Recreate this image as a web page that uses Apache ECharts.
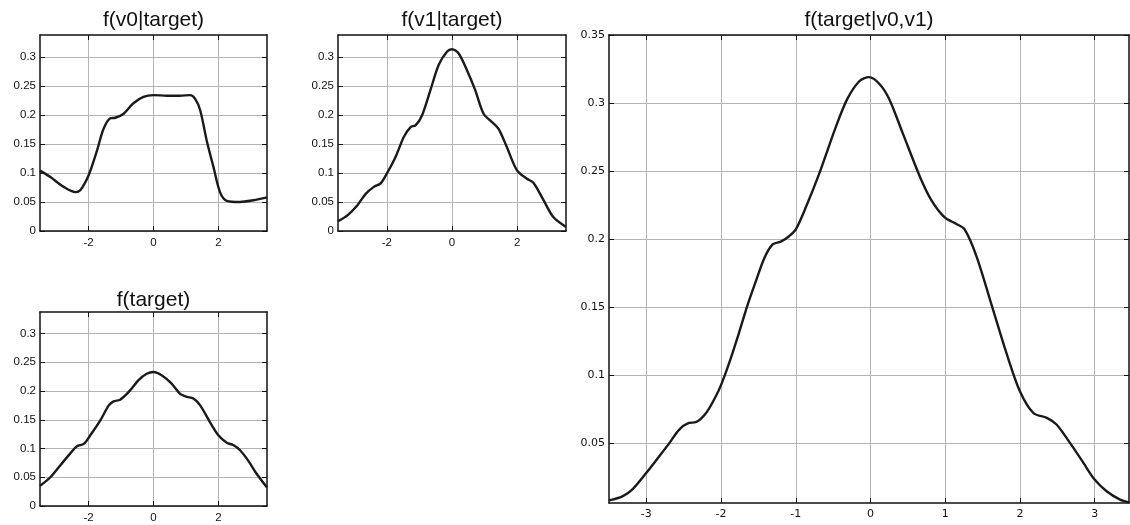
<!DOCTYPE html>
<html>
<head>
<meta charset="utf-8">
<script src="https://cdn.jsdelivr.net/npm/echarts@6/dist/echarts.min.js"></script>
<style>
  html, body { margin: 0; padding: 0; background: #fff; }
  #main { width: 1130px; height: 525px; }
</style>
</head>
<body>
<div id="main"></div>
<script>
// f(v0|target)
const v0X = [-3.5, -3.18, -2.77, -2.41, -2.26, -2.0, -1.74, -1.54, -1.33, -1.18, -0.92, -0.62, -0.31, 0, 0.41, 0.82, 1.13, 1.28, 1.44, 1.64, 1.85, 2.05, 2.26, 2.67, 3.08, 3.5];
const v0Y = [0.104, 0.093, 0.076, 0.067, 0.070, 0.096, 0.139, 0.176, 0.194, 0.195, 0.202, 0.220, 0.231, 0.234, 0.233, 0.233, 0.234, 0.228, 0.208, 0.156, 0.110, 0.067, 0.052, 0.050, 0.053, 0.058];

// f(v1|target)
const v1X = [-3.5, -3.21, -2.91, -2.65, -2.40, -2.19, -2.0, -1.73, -1.48, -1.27, -1.12, -0.92, -0.66, -0.41, -0.15, 0, 0.20, 0.46, 0.71, 0.97, 1.22, 1.43, 1.68, 1.99, 2.30, 2.50, 2.81, 3.11, 3.5];
const v1Y = [0.017, 0.027, 0.044, 0.064, 0.076, 0.082, 0.099, 0.128, 0.162, 0.179, 0.182, 0.199, 0.243, 0.286, 0.309, 0.313, 0.306, 0.277, 0.243, 0.202, 0.188, 0.176, 0.145, 0.105, 0.090, 0.083, 0.053, 0.024, 0.007];

// f(target)
const tgX = [-3.5, -3.18, -2.87, -2.56, -2.36, -2.15, -1.95, -1.64, -1.38, -1.23, -1.03, -0.77, -0.46, -0.21, 0, 0.26, 0.56, 0.82, 1.03, 1.23, 1.44, 1.74, 2.0, 2.26, 2.46, 2.67, 2.92, 3.18, 3.5];
const tgY = [0.035, 0.050, 0.071, 0.092, 0.104, 0.108, 0.123, 0.149, 0.175, 0.182, 0.185, 0.198, 0.219, 0.230, 0.233, 0.227, 0.213, 0.195, 0.190, 0.187, 0.175, 0.146, 0.123, 0.110, 0.106, 0.097, 0.079, 0.056, 0.032];

// f(target|v0,v1)
const postX = [-3.5, -3.32, -3.19, -3.0, -2.83, -2.69, -2.56, -2.43, -2.34, -2.20, -2.07, -1.99, -1.89, -1.76, -1.65, -1.54, -1.42, -1.31, -1.20, -1.09, -1.0, -0.86, -0.68, -0.46, -0.31, -0.15, -0.02, 0.12, 0.25, 0.43, 0.66, 0.81, 0.99, 1.15, 1.26, 1.42, 1.64, 1.82, 2.0, 2.18, 2.36, 2.49, 2.67, 2.85, 3.0, 3.16, 3.34, 3.46];
const postY = [0.0077, 0.0107, 0.0156, 0.028, 0.040, 0.050, 0.0598, 0.0647, 0.0652, 0.072, 0.0843, 0.094, 0.109, 0.131, 0.1506, 0.168, 0.186, 0.196, 0.198, 0.202, 0.207, 0.224, 0.249, 0.283, 0.303, 0.316, 0.319, 0.314, 0.303, 0.278, 0.246, 0.229, 0.216, 0.211, 0.207, 0.187, 0.148, 0.116, 0.088, 0.072, 0.0684, 0.0635, 0.050, 0.0353, 0.023, 0.0144, 0.0083, 0.0063];

const smallXTicks = [-2, 0, 2];
const smallYTicks = [0, 0.05, 0.1, 0.15, 0.2, 0.25, 0.3];
const bigXTicks = [-3, -2, -1, 0, 1, 2, 3];
const bigYTicks = [0.05, 0.1, 0.15, 0.2, 0.25, 0.3, 0.35];
const titles = ["f(v0|target)", "f(v1|target)", "f(target)", "f(target|v0,v1)"];

const smallFont = '"Liberation Sans Narrow", "Arial Narrow", "Liberation Sans", sans-serif';
const bigFont = '"DejaVu Sans", sans-serif';

const panels = [
  { grid: { left: 40, top: 35, width: 227, height: 196 }, x: v0X, y: v0Y,
    xr: [-3.5, 3.5], yr: [0, 0.3375], xt: smallXTicks, yt: smallYTicks, font: smallFont, fs: 11.5, titleTop: 10 },
  { grid: { left: 338, top: 35, width: 228, height: 196 }, x: v1X, y: v1Y,
    xr: [-3.5, 3.5], yr: [0, 0.3375], xt: smallXTicks, yt: smallYTicks, font: smallFont, fs: 11.5, titleTop: 10 },
  { grid: { left: 40, top: 312, width: 227, height: 194 }, x: tgX, y: tgY,
    xr: [-3.5, 3.5], yr: [0, 0.3375], xt: smallXTicks, yt: smallYTicks, font: smallFont, fs: 11.5, titleTop: 290 },
  { grid: { left: 609, top: 35, width: 520, height: 468 }, x: postX, y: postY,
    xr: [-3.5, 3.46], yr: [0.0058, 0.35], xt: bigXTicks, yt: bigYTicks, font: bigFont, fs: 11, titleTop: 10 },
];

const gridLine = { show: true, lineStyle: { color: "#b4b4b4", width: 1, type: "solid" } };

const makeAxis = (gi, range, ticks, p, main, pos) => ({
  type: "value",
  gridIndex: gi,
  position: pos,
  min: range[0],
  max: range[1],
  axisLine: { show: true, onZero: false, lineStyle: { color: "#111", width: 1.5 } },
  axisTick: { show: true, inside: true, length: 5, customValues: ticks, lineStyle: { color: "#111" } },
  axisLabel: {
    show: main,
    customValues: ticks,
    margin: pos === "bottom" ? 6 : 4,
    color: "#111",
    fontSize: p.fs,
    fontFamily: p.font,
  },
  splitLine: main ? gridLine : { show: false },
});

const grids = [];
const xAxes = [];
const yAxes = [];
const series = [];
const titleList = [];

panels.forEach((p, i) => {
  grids.push(p.grid);
  xAxes.push(makeAxis(i, p.xr, p.xt, p, true, "bottom"));
  xAxes.push(makeAxis(i, p.xr, p.xt, p, false, "top"));
  yAxes.push(makeAxis(i, p.yr, p.yt, p, true, "left"));
  yAxes.push(makeAxis(i, p.yr, p.yt, p, false, "right"));
  series.push({
    type: "line",
    xAxisIndex: i * 2,
    yAxisIndex: i * 2,
    data: p.x.map((v, k) => [v, p.y[k]]),
    smooth: 0.3,
    showSymbol: false,
    symbol: "none",
    silent: true,
    lineStyle: { color: "#1a1a1a", width: 2.4 },
  });
  titleList.push({
    text: titles[i],
    left: p.grid.left + p.grid.width / 2,
    top: p.titleTop,
    textAlign: "center",
    padding: 0,
    textStyle: { fontFamily: '"Liberation Sans", Arial, sans-serif', fontSize: 21, fontWeight: "normal", color: "#111" },
  });
});

const chart = echarts.init(document.getElementById("main"));
chart.setOption({
  animation: false,
  backgroundColor: "#fff",
  title: titleList,
  grid: grids,
  xAxis: xAxes,
  yAxis: yAxes,
  series: series,
});
window.addEventListener("resize", () => {
  chart.resize();
});
</script>
</body>
</html>
